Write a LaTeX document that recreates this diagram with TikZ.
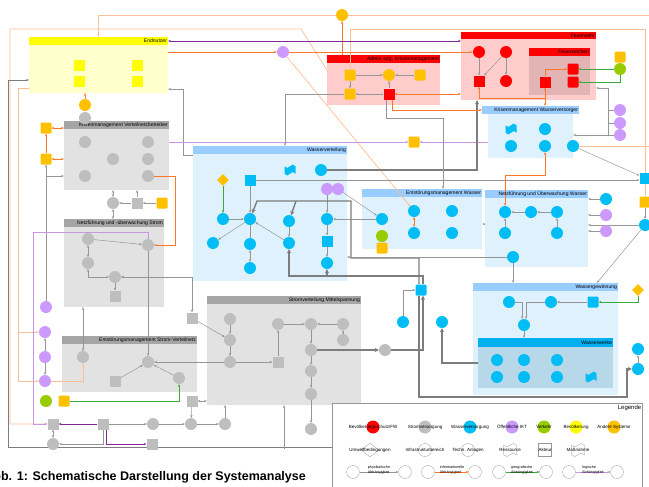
\documentclass[tikz,border=0pt]{standalone}
\usepackage{fontspec}
\setmainfont{Liberation Sans}
\usetikzlibrary{arrows.meta,fit,shapes.geometric,shapes.symbols}
\pgfdeclarelayer{boxes}
\pgfdeclarelayer{lines}
\pgfsetlayers{boxes,lines,main}

\definecolor{cGray}{RGB}{190,190,190}
\definecolor{cBlue}{RGB}{0,190,245}
\definecolor{cRed}{RGB}{255,0,0}
\definecolor{cOrange}{RGB}{255,192,0}
\definecolor{cYellow}{RGB}{255,255,0}
\definecolor{cPurple}{RGB}{204,153,255}
\definecolor{cGreen}{RGB}{153,204,0}
\definecolor{enBody}{RGB}{255,255,204}
\definecolor{gHead}{RGB}{165,165,165}
\definecolor{gBody}{RGB}{226,226,226}
\definecolor{bHead}{RGB}{153,204,255}
\definecolor{bBody}{RGB}{222,241,252}
\definecolor{rBody}{RGB}{255,204,204}
\definecolor{rSub}{RGB}{226,180,180}
\definecolor{wwHead}{RGB}{0,176,240}
\definecolor{wwBody}{RGB}{183,216,233}
\definecolor{lnGray}{RGB}{150,150,150}
\definecolor{lnThick}{RGB}{125,125,125}
\definecolor{lnOrange}{RGB}{255,120,40}
\definecolor{lnOrangeLt}{RGB}{255,190,150}
\definecolor{lnPurple}{RGB}{130,40,150}
\definecolor{lnPurpleLt}{RGB}{200,150,225}
\definecolor{lnGreen}{RGB}{60,170,60}

\newcommand{\unitpx}{0.05cm}
\newcommand{\lblfont}{\fontsize{7.2}{8}\selectfont}
\newcommand{\legfont}{\fontsize{6.4}{7}\selectfont}
\newcommand{\depfont}{\fontsize{5.3}{5.8}\selectfont}

\begin{document}
\begin{tikzpicture}[x=0.05cm, y=-0.05cm,
    >={Stealth[length=4pt,width=3.4pt]},
    panel/.style={inner sep=0, fit={#1}},
    lbl/.style={font=\lblfont, inner sep=1.5pt, anchor=east},
    circ/.style={circle, inner sep=0, minimum size=0.6cm},
    sq/.style={rectangle, inner sep=0, minimum size=0.55cm},
    rsq/.style={sq, rounded corners=1.5pt},
    wave/.style={tape, inner sep=0, minimum width=0.55cm, minimum height=0.55cm},
    dia/.style={diamond, inner sep=0, minimum size=0.6cm, fill=cOrange},
    garr/.style={draw=lnGray, line width=0.7pt},
    gthk/.style={draw=lnThick, line width=2pt, >={Stealth[length=6pt,width=6pt]}},
    gframe/.style={draw=lnThick, line width=1.1pt},
    oarr/.style={draw=lnOrange, line width=0.8pt},
    olt/.style={draw=lnOrangeLt, line width=1pt},
    parr/.style={draw=lnPurple, line width=0.9pt},
    pltt/.style={draw=lnPurpleLt, line width=0.8pt},
    grarr/.style={draw=lnGreen, line width=0.8pt},
    lcirc/.style={circle, inner sep=0, minimum size=0.65cm},
    ltxt/.style={font=\legfont, inner sep=0},
    dtxt/.style={font=\depfont, align=left, inner sep=0},
]
\useasboundingbox (0,0) rectangle (649,486);

% Subsystems
\begin{pgfonlayer}{boxes}
\node[panel={(29,37) (168,93)}, fill=enBody] (en) {};
\node[panel={(29,37) (168,45)}, fill=cYellow] (enh) {};
\node[panel={(64,121) (169,190)}, fill=gBody] (kv) {};
\node[panel={(64,121) (169,129)}, fill=gHead] (kvh) {};
\node[panel={(64,219) (164,307)}, fill=gBody] (ns) {};
\node[panel={(64,219) (164,227)}, fill=gHead] (nsh) {};
\node[panel={(62,336) (197,392)}, fill=gBody] (es) {};
\node[panel={(62,336) (197,344)}, fill=gHead] (esh) {};
\node[panel={(207,296) (361,405)}, fill=gBody] (sm) {};
\node[panel={(207,296) (361,304)}, fill=gHead] (smh) {};
\node[panel={(193,146) (347,281)}, fill=bBody] (wv) {};
\node[panel={(193,146) (347,154)}, fill=bHead] (wvh) {};
\node[panel={(362,189) (482,249)}, fill=bBody] (ew) {};
\node[panel={(362,189) (482,197)}, fill=bHead] (ewh) {};
\node[panel={(485,190) (588,267)}, fill=bBody] (nw) {};
\node[panel={(485,190) (588,198)}, fill=bHead] (nwh) {};
\node[panel={(488,114) (573,158)}, fill=bBody] (kw) {};
\node[panel={(482,106) (579,114)}, fill=bHead] (kwh) {};
\node[panel={(461,32) (596,100)}, fill=rBody] (fw) {};
\node[panel={(461,32) (596,39)}, fill=cRed] (fwh) {};
\node[panel={(529,48) (590,95)}, fill=rSub] (fwa) {};
\node[panel={(529,48) (590,56)}, fill=cRed] (fwah) {};
\node[panel={(327,55) (440,105)}, fill=rBody] (ad) {};
\node[panel={(327,55) (440,63)}, fill=cRed] (adh) {};
\node[panel={(473,283) (618,395)}, fill=bBody] (wg) {};
\node[panel={(473,283) (618,291)}, fill=bHead] (wgh) {};
\node[panel={(478,338) (613,388)}, fill=wwBody] (ww) {};
\node[panel={(478,338) (613,347)}, fill=wwHead] (wwh) {};
\node[panel={(332,403) (642,492)}, fill=white, draw=lnGray, line width=0.8pt] (lg) {};
\end{pgfonlayer}

% Headers
\node[lbl] (enl) at (enh.east) {Endnutzer};
\node[lbl] (kvl) at (kvh.east) {Krisenmanagement Verteilnetzbetreiber};
\node[lbl] (nsl) at (nsh.east) {Netzführung und -überwachung Strom};
\node[lbl] (esl) at (esh.east) {Entstörungsmanagement Strom-Verteilnetz};
\node[lbl] (sml) at (smh.east) {Stromverteilung Mittelspannung};
\node[lbl] (wvl) at (wvh.east) {Wasserverteilung};
\node[lbl] (ewl) at (ewh.east) {Entstörungsmanagement Wasser};
\node[lbl] (nwl) at (nwh.east) {Netzführung und Überwachung Wasser};
\node[lbl] (kwl) at (kwh.east) {Krisenmanagement Wasserversorger};
\node[lbl] (fwl) at (fwh.east) {Feuerwehr};
\node[lbl] (fwal) at (fwah.east) {Feuerwachen};
\node[lbl] (adl) at (adh.east) {Admin.-org. Krisenmanagement};
\node[lbl] (wgl) at (wgh.east) {Wassergewinnung};
\node[lbl] (wwl) at (wwh.east) {Wasserwerke};

% Endnutzer
\node[sq, fill=cYellow] (en1) at (79,65) {};
\node[sq, fill=cYellow] (en2) at (79,81) {};
\node[sq, fill=cYellow] (en3) at (137,65) {};
\node[sq, fill=cYellow] (en4) at (137,81) {};
\node[circ, fill=cOrange] (o1) at (85,105) {};
\node[circ, fill=cGray] (g1) at (85,118) {};

% Krisenmanagement Verteilnetzbetreiber
\node[circ, fill=cGray] (kv1) at (85,142) {};
\node[circ, fill=cGray] (kv2) at (148,142) {};
\node[circ, fill=cGray] (kv3) at (113,159) {};
\node[circ, fill=cGray] (kv4) at (148,159) {};
\node[circ, fill=cGray] (kv5) at (85,176) {};
\node[circ, fill=cGray] (kv6) at (148,176) {};
\node[rsq, fill=cOrange] (os1) at (46,128) {};
\node[rsq, fill=cOrange] (os2) at (46,159) {};
\node[circ, fill=cGray] (kvc) at (113,203) {};
\node[sq, fill=cGray] (kvs) at (137,203) {};
\node[rsq, fill=cOrange] (kvo) at (162,203) {};

% Netzfuehrung Strom
\node[circ, fill=cGray] (ns1) at (88,239) {};
\node[circ, fill=cGray] (ns2) at (148,245) {};
\node[circ, fill=cGray] (ns3) at (88,263) {};
\node[circ, fill=cGray] (ns4) at (115,277) {};
\node[sq, fill=cGray] (ns5) at (115,296) {};
\node[circ, fill=cPurple] (pu1) at (46,307) {};

% Entstoerung Strom
\node[circ, fill=cGray] (es1) at (83,357) {};
\node[circ, fill=cGray] (es2) at (148,362) {};
\node[sq, fill=cGray] (es3) at (115,381) {};
\node[circ, fill=cGray] (es4) at (179,378) {};
\node[circ, fill=cPurple] (pu2) at (45,332) {};
\node[circ, fill=cPurple] (pu3) at (45,357) {};
\node[circ, fill=cPurple] (pu4) at (45,381) {};
\node[circ, fill=cGreen] (gr1) at (46,401) {};
\node[rsq, fill=cOrange] (os3) at (64,401) {};

% Bottom row
\node[sq, fill=cGray] (b1) at (53,424) {};
\node[sq, fill=cGray] (b2) at (103,424) {};
\node[circ, fill=cGray] (b3) at (153,424) {};
\node[circ, fill=cGray] (b4) at (191,424) {};
\node[circ, fill=cGray] (b5) at (225,424) {};
\node[circ, fill=cGray] (b6) at (53,444) {};
\node[sq, fill=cGray] (b7) at (152,444) {};
\node[sq, fill=cGray] (b8) at (192,401) {};
\coordinate (fb) at (284,449);

% Stromverteilung Mittelspannung
\node[sq, fill=cGray] (gs) at (192,318) {};
\node[circ, fill=cGray] (sm1) at (230,319) {};
\node[circ, fill=cGray] (sm2) at (230,340) {};
\node[circ, fill=cGray] (sm3) at (230,362) {};
\node[sq, fill=cGray] (sm4) at (278,362) {};
\node[circ, fill=cGray] (sm5) at (278,324) {};
\node[circ, fill=cGray] (sm6) at (311,324) {};
\node[circ, fill=cGray] (sm7) at (343,324) {};
\node[circ, fill=cGray] (sm8) at (343,340) {};
\node[circ, fill=cGray] (sm9) at (311,350) {};
\node[circ, fill=cGray] (sm10) at (311,371) {};
\node[circ, fill=cGray] (sm11) at (311,394) {};
\node[circ, fill=cGray] (sm12) at (311,429) {};
\node[circ, fill=cGray] (grc) at (385,350) {};

% Wasserverteilung
\node[dia] (wd) at (223,180) {};
\node[sq, fill=cBlue] (wq1) at (250,180) {};
\node[wave, fill=cBlue] (wq2) at (290,170) {};
\node[circ, fill=cBlue] (wc0) at (321,170) {};
\node[circ, fill=cPurple] (pu5) at (327,189) {};
\node[circ, fill=cPurple] (pu6) at (338,189) {};
\node[circ, fill=cBlue] (wc1) at (223,219) {};
\node[circ, fill=cBlue] (wc2) at (250,219) {};
\node[circ, fill=cBlue] (wc3) at (289,221) {};
\node[circ, fill=cBlue] (wc4) at (327,219) {};
\node[circ, fill=cBlue] (wc5) at (213,243) {};
\node[circ, fill=cBlue] (wc6) at (250,244) {};
\node[circ, fill=cBlue] (wc7) at (289,243) {};
\node[sq, fill=cBlue] (wq3) at (327,241) {};
\node[circ, fill=cBlue] (wc8) at (250,268) {};
\node[circ, fill=cBlue] (wc9) at (327,263) {};

% Entstoerungsmanagement Wasser
\node[circ, fill=cBlue] (ew1) at (382,219) {};
\node[circ, fill=cGreen] (gr2) at (382,236) {};
\node[rsq, fill=cOrange] (os4) at (382,248) {};
\node[circ, fill=cBlue] (ew2) at (414,211) {};
\node[circ, fill=cBlue] (ew3) at (414,233) {};
\node[circ, fill=cBlue] (ew4) at (452,211) {};
\node[circ, fill=cBlue] (ew5) at (452,233) {};

% Netzfuehrung Wasser
\node[circ, fill=cBlue] (nw1) at (505,212) {};
\node[circ, fill=cBlue] (nw2) at (531,212) {};
\node[circ, fill=cBlue] (nw3) at (557,212) {};
\node[circ, fill=cBlue] (nw4) at (505,233) {};
\node[circ, fill=cBlue] (nw5) at (557,233) {};
\node[circ, fill=cBlue] (nw6) at (513,257) {};
\node[circ, fill=cBlue] (nw7) at (606,199) {};
\node[circ, fill=cPurple] (pu7) at (606,215) {};
\node[circ, fill=cPurple] (pu8) at (606,231) {};
\node[sq, fill=cBlue] (rq1) at (645,178) {};
\node[rsq, fill=cOrange] (os5) at (645,202) {};
\node[circ, fill=cBlue] (rc1) at (645,225) {};

% Krisenmanagement Wasserversorger
\node[wave, fill=cBlue] (kw1) at (511,129) {};
\node[circ, fill=cBlue] (kw2) at (545,129) {};
\node[circ, fill=cBlue] (kw3) at (511,146) {};
\node[circ, fill=cBlue] (kw4) at (545,146) {};
\node[circ, fill=cBlue] (kw5) at (573,146) {};
\node[circ, fill=cPurple] (pu9) at (620,110) {};
\node[circ, fill=cPurple] (pu10) at (620,123) {};
\node[circ, fill=cPurple] (pu11) at (620,135) {};

% Feuerwehr
\node[circ, fill=cRed] (fw1) at (479,52) {};
\node[circ, fill=cRed] (fw2) at (506,52) {};
\node[sq, fill=cRed] (fw3) at (479,81) {};
\node[circ, fill=cRed] (fw4) at (506,81) {};
\node[sq, fill=cRed] (fw5) at (545,82) {};
\node[rsq, fill=cRed] (fw6) at (573,69) {};
\node[rsq, fill=cRed] (fw7) at (573,82) {};
\node[rsq, fill=cOrange] (os6) at (620,57) {};
\node[circ, fill=cGreen] (gr3) at (620,69) {};

% Admin.-org. Krisenmanagement
\node[rsq, fill=cOrange] (ad1) at (350,75) {};
\node[rsq, fill=cOrange] (ad2) at (350,94) {};
\node[circ, fill=cOrange] (ad3) at (389,75) {};
\node[rsq, fill=cOrange] (ad4) at (420,75) {};
\node[sq, fill=cRed] (ad5) at (389,94) {};
\node[circ, fill=cOrange] (oc) at (342,15) {};
\node[circ, fill=cPurple] (pu12) at (283,52) {};
\node[rsq, fill=cOrange] (os7) at (414,142) {};
\coordinate (eR1) at (649,15);
\coordinate (eR2) at (649,146);

% Wassergewinnung, Wasserwerke
\node[circ, fill=cBlue] (wg1) at (509,302) {};
\node[circ, fill=cBlue] (wg2) at (551,302) {};
\node[sq, fill=cBlue, rounded corners=1.5pt] (wg3) at (593,302) {};
\node[circ, fill=cBlue] (wg4) at (524,325) {};
\node[dia] (wd2) at (638,290) {};
\node[circ, fill=cBlue] (ww1) at (497,360) {};
\node[circ, fill=cBlue] (ww2) at (524,360) {};
\node[circ, fill=cBlue] (ww3) at (557,360) {};
\node[circ, fill=cBlue] (ww4) at (497,377) {};
\node[circ, fill=cBlue] (ww5) at (524,377) {};
\node[circ, fill=cBlue] (ww6) at (557,377) {};
\node[wave, fill=cBlue] (ww7) at (591,377) {};
\node[sq, fill=cBlue, rounded corners=1.5pt] (ws) at (421,290) {};
\node[circ, fill=cBlue] (wc10) at (403,322) {};
\node[circ, fill=cBlue] (wc11) at (442,322) {};
\node[circ, fill=cBlue] (rc2) at (638,349) {};
\node[circ, fill=cBlue] (rc3) at (638,369) {};

% Connectors
\begin{pgfonlayer}{lines}
% top and Endnutzer
\draw[olt,->] (oc) -| (en.north);
\draw[olt] (oc) -- (eR1);
\draw[oarr,->] (adh.north -| oc) -- (oc);
\draw[olt,->] ([yshift=0.5cm]ad.west) -- (301,29) -| (10,424) -- (b1);
\draw[olt] (ad1) |- (os5 |- 0,29) -- (os5);
\draw[olt,->] ([yshift=-23*\unitpx]en.west) -- (18,88) |- (pu4);
\draw[olt,->] (18,332) -- (pu2);
\draw[parr,<->] (enh.east) -- (enh.east -| fw.west);
\draw[oarr,->] (en.east |- pu12) -- (pu12);
\draw[oarr,->] (pu12) -- (fw1);
\draw[olt,->] (pu12) -- (ew2);
\draw[garr,->] ([yshift=-9*\unitpx]wv.north west) -- ++(-10,0) |- ([yshift=4*\unitpx]en.south east);
\draw[gframe,->] (lg.west) -| (8,80) -- ([yshift=-15*\unitpx]en.west);
\draw[oarr,->] (o1) -- (o1 |- en.south);

% Krisenmanagement Verteilnetzbetreiber
\draw[oarr,->] (os2) -- (os1);
\draw[oarr,<->] (os1) -- (os1 -| kv.west);
\draw[oarr,<->] (os2) -- (os2 -| kv.west);
\draw[garr,->] (pu1) -- (os2);
\draw[garr,->] (pu1 |- kv5) -- (kv.west |- kv5);
\draw[pltt,->] (kv.east |- os7) -- (os7);
\draw[pltt,->] (kw.west |- os7) -- (os7);
\draw[garr,->] (kvo) -- (kvs);
\draw[garr,->] (kvs) -- (kvc);
\draw[garr,<->] (kvc) -- (kvc |- kv.south);
\draw[garr,<->] (kvc) -- (kvc |- nsh.north);
\draw[garr,->] (kvs) -- (kvs |- kv.south);
\draw[oarr,->] (kv6) -- ++(27,0) |- (ns2);

% Netzfuehrung Strom
\draw[garr,->] (ns1) -- (ns2);
\draw[garr,<->] (ns1) -- (ns3);
\draw[garr,->] (ns2) |- (ns4);
\draw[garr,<->] (ns3) |- (ns4);
\draw[garr,->] (ns4) -- (ns5);
\draw[garr,<->] (ns4) -| (gs);
\draw[garr,->] (ns2) -- (es2);
\draw[pltt,->] (ns2.north) |- (33,232) |- (b1);
\draw[garr,<->] (es1) -- (es1 |- ns.south);

% Entstoerung Strom
\draw[garr,->] (pu3) -- (pu2);
\draw[garr,->] (pu3) -- (pu4);
\draw[olt,->] (pu4) -| (es1);
\draw[garr,->] (es3) -- (es2);
\draw[garr,->] (es4) -- (es2);
\draw[grarr,->] (os3) -| (es4);
\draw[garr,->] (sm3) -- (es2);

% bottom row
\draw[parr,->] (b2) -- (b1);
\draw[garr,->] (b2) |- (b6);
\draw[parr,->] ([xshift=3*\unitpx]b2.south) |- (b7);
\draw[garr,<->] (b1) -- (b6);
\draw[garr,->] (b2) -- (b3);
\draw[garr,->] (b3) -- (b4);
\draw[garr,->] (b4) -- (b5);
\draw[garr,->] (b8) -- (b4);
\draw[garr,<->] (b8) -- (b8 -| sm.west);
\draw[garr,->] (b5) -- (b5 |- sm.south);
\draw[garr,->] (fb) -- (fb |- sm.south);

% Stromverteilung Mittelspannung
\draw[garr,->] (gs) -- (sm2);
\draw[garr,->] (sm1) -- (sm2);
\draw[garr,->] (sm2) -- (sm3);
\draw[garr,->] (sm3) -- (sm4);
\draw[garr,->] (sm4) -- (sm5);
\draw[garr,->] (sm5) -- (sm6);
\draw[garr,->] (sm7) -- (sm6);
\draw[garr,->] (sm8) -- (sm7);
\draw[garr,->] (sm6) -- (sm9);
\draw[garr,->] (sm9) -- (sm10);
\draw[garr,->] (sm10) -- (sm11);
\draw[garr,->] (sm11) -- (sm12);
\draw[gthk,->] (sm9) -- (grc);
\draw[gthk,->] (grc) -| ([xshift=2*\unitpx]ws.south);

% Wasserverteilung
\draw[grarr,->] (wd) -- (wc1);
\draw[garr,->] (wc1) -- (wc2);
\draw[garr,->] (wq1) -- (wc2);
\draw[garr,->] (wc2) -- (wc5);
\draw[garr] (wc2) -- (wc6);
\draw[garr,<->] (wc6) -- (wc8);
\draw[garr,->] (wc7) -- (wc2);
\draw[garr,->] (wc3) -- (wc7);
\draw[garr,->] (pu5) -- (wc4);
\draw[garr,->] (wc4) -- (wq3);
\draw[garr,->] (wq3) -- (wc9);
\draw[garr,->] (pu6) -- (ew1);
\draw[garr,->] (ew1) -- (wc4);
\draw[garr,->] (wq1) -- (wq1 -| rq1.west);
\draw[gthk,->] (wc0) -| (fw.south -| 477,0);
\draw[gthk,->] ([xshift=-2*\unitpx]ws.north) |- (351,258) |- (257,201) -- (wc2);
\draw[gthk,->] (296,201) -- (wc3);
\draw[gthk,->] ([xshift=2*\unitpx]ws.north) |- (wc7 |- 0,276) -- (wc7);
\draw[gthk,->] (wc9 |- 0,276) -- (wc9);

% Entstoerungsmanagement Wasser
\draw[oarr,<->] (ew2) -- (ew3);
\draw[garr,->] (nw.west |- 0,224) -- (ew.east |- 0,224);
\draw[garr,->] ([xshift=-3*\unitpx]ad5.south) |- (443,118) -- (ewh.north -| 443,0);
\draw[oarr,->] ([xshift=3*\unitpx]ad5.south) |- (kwh.west);

% Admin.-org. Krisenmanagement
\draw[garr,->] (ad1) -- (ad2);
\draw[garr,->] (ad1) -- (ad3);
\draw[garr,->] (ad4) -- (ad3);
\draw[garr,->] (ad5) -- (ad3);
\draw[garr,->] (ad5) -- (ad2);
\draw[garr,->] (ad2) -| (wvh.north -| 285,0);
\draw[oarr,<->] (ad5) -- (ad5 -| fw.west);

% Feuerwehr
\draw[garr,->] (fw1) -- (fw3);
\draw[garr,->] (fw2) -- (fw3);
\draw[garr,->] (fw2) -- (fw4);
\draw[oarr,->] (fw5) |- (fw6);
\draw[oarr,<->] (fw3) -- ++(0,17) -| (fw5);
\draw[oarr,->] (fw5 |- 0,98) -- (fw5 |- kwh.north);
\draw[grarr,->] (gr3) -- (fw6);
\draw[grarr,->] (gr3) |- (fw7);

% Krisenmanagement Wasserversorger
\draw[garr,->] (pu11) -- (kw.east |- pu11);
\draw[garr,->] (pu11 -| 608,0) -- (608,88) -- (fw.east |- 0,88);
\draw[garr] (pu9) -- (pu9 -| 608,0);
\draw[garr] (pu10) -- (pu10 -| 608,0);
\draw[oarr,<->] (kw4) |- (nw1 |- 0,175) -- (nw1);
\draw[olt] (kw5) -- (eR2);
\draw[garr,->] (kw5) -- (rq1);

% Netzfuehrung Wasser, right edge
\draw[garr,->] (nw2) -- (nw1);
\draw[garr,->] (nw3) -- (nw2);
\draw[garr,->] (nw4) -- (nw1);
\draw[garr,->] (nw5) -- (nw3);
\draw[garr,->] (os5) -- (rc1);
\draw[garr,->] (rc1) -- (wgh.north -| 597,0);
\draw[garr,->] (rc1) -- (rc1 -| nw.east);
\draw[garr,->] (nw7) -- (nw7 -| nw.east);
\draw[garr,->] (pu7) -- (pu7 -| nw.east);
\draw[garr,->] (pu8) -- (pu8 -| nw.east);
\draw[garr,->] (nw6) -- (nw6 -| wv.east);
\draw[garr,->] (nw6) -- (nw6 |- wgh.north);

% Wassergewinnung
\draw[grarr,->] (wd2) |- (wg3);
\draw[garr,->] (wg3) -- (wg2);
\draw[garr,->] (wg2) -| ([xshift=2*\unitpx]wg4.north);
\draw[garr,->] (wg1) -| ([xshift=-2*\unitpx]wg4.north);
\draw[garr,->] (wg4) -- (wg4 |- wwh.north);
\draw[gthk,->] (ww.west) -| (wc11);
\draw[garr,->] (wc10) |- (ws);
\draw[gthk,->] ([xshift=-2*\unitpx]ws.south) |- (627,397) |- (rc3);
\draw[garr,->] (rc3) -- (rc2);
\end{pgfonlayer}

% Legend
\node[font=\fontsize{8.5}{9}\selectfont, anchor=north east, inner sep=1pt] (lgt) at (642,404) {Legende};
\node[lcirc, fill=cRed] (l1) at (373,427) {};
\node[ltxt] (l1t) at (l1) {Bevölkerungsschutz/FW};
\node[lcirc, fill=cGray] (l2) at (425,427) {};
\node[ltxt] (l2t) at (l2) {Stromversorgung};
\node[lcirc, fill=cBlue] (l3) at (470,427) {};
\node[ltxt] (l3t) at (l3) {Wasserversorgung};
\node[lcirc, fill=cPurple] (l4) at (512,427) {};
\node[ltxt] (l4t) at (l4) {Öffentliche IKT};
\node[lcirc, fill=cGreen] (l5) at (544,427) {};
\node[ltxt] (l5t) at (l5) {Verkehr};
\node[lcirc, fill=cYellow] (l6) at (576,427) {};
\node[ltxt] (l6t) at (l6) {Bevölkerung};
\node[lcirc, fill=cOrange] (l7) at (614,427) {};
\node[ltxt] (l7t) at (l7) {Andere Systeme};

\node[diamond, draw=lnGray, fill=white, inner sep=0, minimum width=0.9cm, minimum height=0.7cm] (l8) at (370,450) {};
\node[ltxt] (l8t) at (l8) {Umweltbedingungen};
\node[lcirc, draw=lnGray, fill=white] (l9) at (425,450) {};
\node[ltxt] (l9t) at (l9) {Infrastrukturbereich};
\node[lcirc, draw=lnGray, fill=white] (l10) at (468,450) {};
\node[ltxt] (l10t) at (l10) {Techn. Anlagen};
\node[wave, draw=lnGray, fill=white, minimum width=0.65cm, minimum height=0.65cm] (l11) at (510,450) {};
\node[ltxt] (l11t) at (l11) {Ressource};
\node[sq, draw=lnGray, fill=white, minimum size=0.65cm] (l12) at (545,450) {};
\node[ltxt] (l12t) at (l12) {Akteur};
\node[wave, draw=lnGray, fill=white, minimum width=0.65cm, minimum height=0.65cm] (l13) at (578,450) {};
\node[ltxt] (l13t) at (l13) {Maßnahme};

\node[lcirc, draw=lnGray, fill=white] (l14) at (353,472) {};
\node[lcirc, draw=lnGray, fill=white] (l15) at (405,472) {};
\draw[garr,->] (l14) -- (l15);
\node[dtxt] (l14t) at (379,470) {physikalische\\Abhängigkeit};
\node[lcirc, draw=lnGray, fill=white] (l16) at (428,472) {};
\node[lcirc, draw=lnGray, fill=white] (l17) at (475,472) {};
\draw[oarr,->] (l16) -- (l17);
\node[dtxt] (l16t) at (452,470) {informationelle\\Abhängigkeit};
\node[lcirc, draw=lnGray, fill=white] (l18) at (499,472) {};
\node[lcirc, draw=lnGray, fill=white] (l19) at (546,472) {};
\draw[grarr,->] (l18) -- (l19);
\node[dtxt] (l18t) at (522,470) {geografische\\Abhängigkeit};
\node[lcirc, draw=lnGray, fill=white] (l20) at (569,472) {};
\node[lcirc, draw=lnGray, fill=white] (l21) at (617,472) {};
\draw[pltt,->] (l20) -- (l21);
\node[dtxt] (l20t) at (593,470) {logische\\Abhängigkeit};

% Caption
\node[font=\bfseries\fontsize{17.8}{20}\selectfont, anchor=base east, inner sep=0] (cap) at (306,480) {Abb. 1: Schematische Darstellung der Systemanalyse};

\end{tikzpicture}
\end{document}
